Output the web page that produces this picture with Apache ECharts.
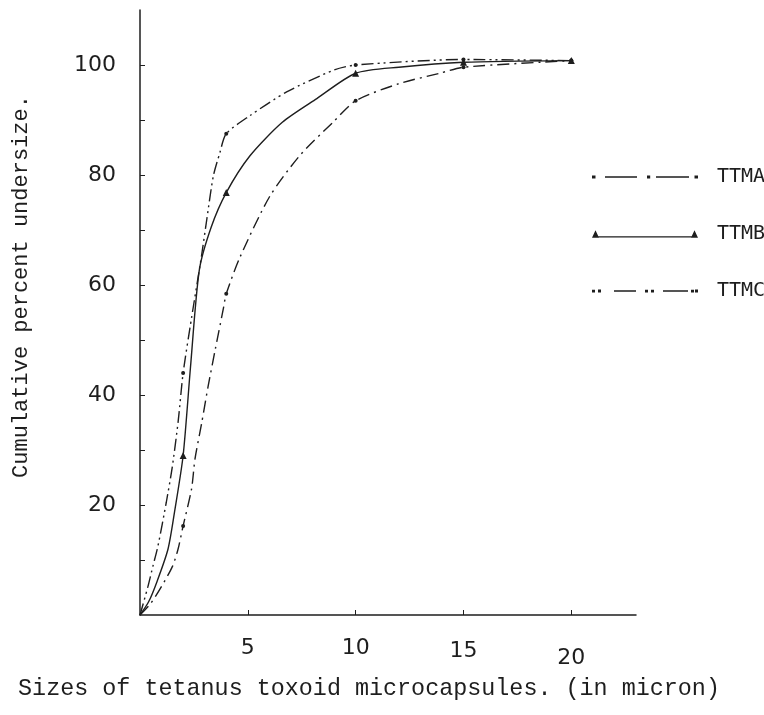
<!DOCTYPE html>
<html>
<head>
<meta charset="utf-8">
<style>
  html, body { margin: 0; padding: 0; background: #fff; }
  #chart { width: 764px; height: 715px; }
</style>
<script src="https://cdn.jsdelivr.net/npm/echarts@6/dist/echarts.min.js"></script>
</head>
<body>
<div id="chart"></div>
<script>
// values (size in micron -> cumulative % undersize)
const ttmaX = [0, 0.5, 1, 1.5, 1.76, 2, 2.39, 2.55, 2.86, 3.16, 3.5, 3.86, 4, 4.63, 6, 7.4, 8.95, 10, 12, 13.9, 15, 20];
const ttmaY = [0, 2.1, 5.2, 8.8, 11.9, 16.2, 22.9, 28.4, 34.9, 41.6, 48.5, 55.6, 58.4, 65, 76, 83.5, 89.6, 93.5, 96.6, 98.5, 99.6, 100.8];

const ttmbX = [0, 0.4, 0.8, 1.3, 1.6, 2, 2.34, 2.75, 3.3, 4, 5.1, 6.6, 8.2, 10, 12, 15, 20];
const ttmbY = [0, 2.4, 6.2, 12, 18.7, 29, 45, 62.7, 70.5, 76.8, 83.5, 89.6, 93.9, 98.5, 99.6, 100.5, 100.8];

const ttmcX = [0, 0.37, 0.6, 0.83, 1.22, 1.5, 1.77, 2, 2.39, 2.86, 3.1, 3.4, 3.7, 4, 5.1, 6.8, 9, 10, 15, 20];
const ttmcY = [0, 5.2, 8.9, 12.5, 20.5, 27, 35.2, 44, 54, 65.5, 72, 79.8, 84, 87.5, 90.8, 95.1, 99.1, 100, 101, 100.8];

// sizes that carry a plotted marker
const markedSizes = [2, 4, 10, 15, 20];

const xTicks = [5, 10, 15, 20];
const yTicks = [10, 20, 30, 40, 50, 60, 70, 80, 90, 100];
const yLabels = [20, 40, 60, 80, 100];

const ink = "#1e1e1e";

// legend keys drawn as little paths (dash-dot, line with end triangles, dash-dot-dot)
const iconA = "path://M0,2.5h3.5v3h-3.5Z M13,3.2h32v1.6h-32Z M55,2.6h3.2v2.8h-3.2Z M64,3.2h33v1.6h-33Z M102.5,2.5h3.5v3h-3.5Z";
const iconB = "path://M0,8L3.5,0.5L7,8Z M99,8L102.5,0.5L106,8Z M3,6.6H103V7.8H3Z";
const iconC = "path://M0,2.8h3v2.6h-3Z M6,2.6h3v2.8h-3Z M22,3.2h22v1.6h-22Z M53,2.8h3v2.6h-3Z M59,2.8h3v2.6h-3Z M71,3.2h25v1.6h-25Z M99,2.8h3v2.6h-3Z M103,2.6h3v2.8h-3Z";

const chart = echarts.init(document.getElementById("chart"));

const points = (xs, ys, sym) =>
  xs.map((x, i) => ({
    value: [x, ys[i]],
    symbol: markedSizes.includes(x) ? sym : "none",
  }));

const lineSeries = (name, xs, ys, dash, sym, size) => ({
  name,
  type: "line",
  data: points(xs, ys, sym),
  smooth: 0.25,
  symbolSize: size,
  itemStyle: { color: ink },
  lineStyle: { color: ink, width: 1.4, type: dash },
});

// typed labels sit a little uneven in the original
const xLabelFmt = (v) => (v === 15 ? "{b|15}" : v === 20 ? "{c|20}" : String(v));

const option = {
  animation: false,
  backgroundColor: "#fff",
  grid: { left: 140, right: 128, top: 10, bottom: 100 },
  legend: {
    orient: "vertical",
    left: 587,
    top: 162,
    itemWidth: 106,
    itemHeight: 20,
    itemGap: 37,
    textStyle: {
      fontFamily: "DejaVu Sans Mono",
      fontSize: 20,
      color: ink,
      padding: [0, 0, 0, 14],
    },
    data: [
      { name: "TTMA", icon: iconA },
      { name: "TTMB", icon: iconB },
      { name: "TTMC", icon: iconC },
    ],
  },
  xAxis: {
    type: "value",
    min: 0,
    max: 23,
    interval: 5,
    name: "Sizes of tetanus toxoid microcapsules. (in micron)",
    nameLocation: "middle",
    nameGap: 62,
    nameTextStyle: {
      fontFamily: "Liberation Mono",
      fontSize: 23.4,
      color: ink,
      padding: [0, 38, 0, 0],
    },
    axisLine: { lineStyle: { color: ink, width: 1.5 } },
    axisTick: { inside: true, length: 5, customValues: xTicks, lineStyle: { color: ink } },
    axisLabel: {
      customValues: xTicks,
      margin: 22,
      fontFamily: "DejaVu Sans",
      fontSize: 22,
      color: ink,
      formatter: xLabelFmt,
      rich: {
        b: { fontFamily: "DejaVu Sans", fontSize: 22, color: ink, padding: [3, 0, 0, 0] },
        c: { fontFamily: "DejaVu Sans", fontSize: 22, color: ink, padding: [10, 0, 0, 0] },
      },
    },
    splitLine: { show: false },
  },
  yAxis: {
    type: "value",
    min: 0,
    max: 110,
    interval: 10,
    name: "Cumulative percent undersize.",
    nameLocation: "middle",
    nameGap: 108,
    nameTextStyle: {
      fontFamily: "Liberation Mono",
      fontSize: 22,
      color: ink,
      padding: [0, 0, 0, 52],
    },
    axisLine: { show: true, lineStyle: { color: ink, width: 1.5 } },
    axisTick: { show: true, inside: true, length: 5, customValues: yTicks, lineStyle: { color: ink } },
    axisLabel: {
      customValues: yLabels,
      margin: 24,
      fontFamily: "DejaVu Sans",
      fontSize: 22,
      color: ink,
    },
    splitLine: { show: false },
  },
  series: [
    lineSeries("TTMA", ttmaX, ttmaY, [12, 5, 2, 5], "circle", 4),
    lineSeries("TTMB", ttmbX, ttmbY, "solid", "triangle", 7),
    lineSeries("TTMC", ttmcX, ttmcY, [12, 4, 2, 4, 2, 4], "circle", 4),
  ],
};

chart.setOption(option);
</script>
</body>
</html>
